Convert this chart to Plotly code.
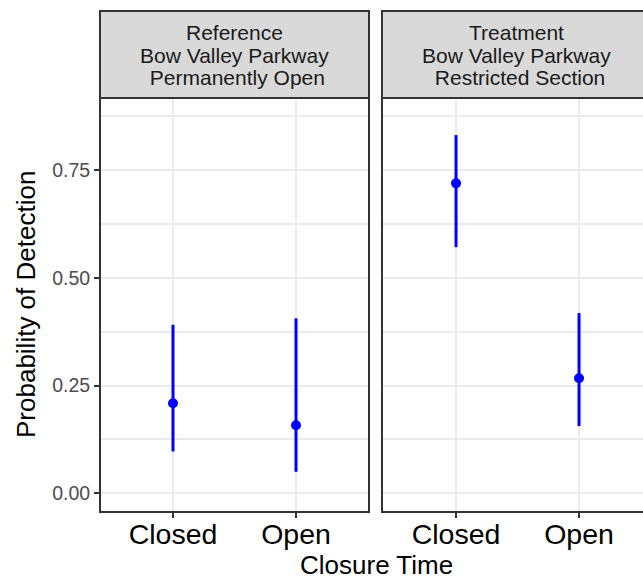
import plotly.graph_objects as go

categories = ["Closed", "Open"]
panels = ["Reference", "Treatment"]
strip_labels = [
    ["Reference", "Bow Valley Parkway", "\u00a0Permanently Open"],
    ["Treatment", "Bow Valley Parkway", "\u00a0Restricted Section"],
]
estimate = {"Reference": [0.209, 0.158], "Treatment": [0.719, 0.267]}
lower = {"Reference": [0.097, 0.050], "Treatment": [0.571, 0.156]}
upper = {"Reference": [0.391, 0.406], "Treatment": [0.831, 0.418]}
y_ticks = [0.0, 0.25, 0.5, 0.75]
y_ticktext = ["0.00", "0.25", "0.50", "0.75"]

W, H = 643, 580
ml, mr, mt, mb = 100, 0, 98, 68
pw, ph = W - ml - mr, H - mt - mb

def px_x(p):
    return (p - ml) / pw

def px_y(p):
    return (H - mb - p) / ph

FONT = "Liberation Sans, Arial, Helvetica, sans-serif"
fig = go.Figure()

axes = [("x", "y"), ("x2", "y2")]
for (xa, ya), pan in zip(axes, panels):
    est = estimate[pan]
    fig.add_trace(go.Scatter(
        x=categories, y=est, xaxis=xa, yaxis=ya, mode="markers",
        marker=dict(color="#0000FF", size=10),
        error_y=dict(type="data", symmetric=False,
                     array=[u - e for u, e in zip(upper[pan], est)],
                     arrayminus=[e - l for l, e in zip(lower[pan], est)],
                     color="#0000FF", thickness=3, width=0),
        showlegend=False, cliponaxis=False, hoverinfo="skip",
    ))

yr = [-0.0434, 0.917]
common_x = dict(type="category", showgrid=True, gridcolor="#EBEBEB", gridwidth=2,
                ticks="outside", ticklen=5, tickcolor="#333333", tickwidth=1.5,
                tickfont=dict(family=FONT, size=28.5, color="#000000"),
                ticklabelstandoff=-8,
                showline=False, zeroline=False, fixedrange=True)
common_y = dict(range=yr, tickvals=y_ticks, ticktext=y_ticktext, showgrid=True,
                gridcolor="#EBEBEB", gridwidth=2, zeroline=False, showline=False,
                minor=dict(tick0=0.125, dtick=0.25, showgrid=True, gridcolor="#EBEBEB",
                           gridwidth=1.5, ticks=""),
                fixedrange=True)

left_dom = [0, px_x(369)]
right_dom = [px_x(382), 1]
fig.update_layout(
    width=W, height=H, margin=dict(l=ml, r=mr, t=mt, b=mb),
    plot_bgcolor="white", paper_bgcolor="white",
    xaxis=dict(domain=left_dom, range=[-0.5935, 1.5935], anchor="y", **common_x),
    xaxis2=dict(domain=right_dom, range=[-0.602, 1.52], anchor="y2", **common_x),
    yaxis=dict(domain=[0, 1], anchor="x", ticks="outside", ticklen=5, tickcolor="#333333",
               tickwidth=1.5, tickfont=dict(family=FONT, size=19.5, color="#4D4D4D"), **common_y),
    yaxis2=dict(domain=[0, 1], anchor="x2", showticklabels=False, ticks="", **common_y),
    font=dict(family=FONT),
)

shapes = []
border = dict(color="#333333", width=2)
shapes.append(dict(type="rect", xref="paper", yref="paper", x0=left_dom[0], x1=left_dom[1],
                   y0=0, y1=1, line=border, fillcolor="rgba(0,0,0,0)", layer="above"))
shapes.append(dict(type="rect", xref="paper", yref="paper", x0=right_dom[0], x1=1.05,
                   y0=0, y1=1, line=border, fillcolor="rgba(0,0,0,0)", layer="above"))
strip_top = px_y(11)
shapes.append(dict(type="rect", xref="paper", yref="paper", x0=left_dom[0], x1=left_dom[1],
                   y0=1, y1=strip_top, line=border, fillcolor="#D9D9D9", layer="above"))
shapes.append(dict(type="rect", xref="paper", yref="paper", x0=right_dom[0], x1=1.05,
                   y0=1, y1=strip_top, line=border, fillcolor="#D9D9D9", layer="above"))
fig.update_layout(shapes=shapes)

annotations = []
centers = [px_x((100 + 369) / 2), px_x((382 + 651) / 2)]
line_y = [33, 55.5, 77.5]
for cx, labels in zip(centers, strip_labels):
    for ly, txt in zip(line_y, labels):
        annotations.append(dict(text=txt, x=cx, y=px_y(ly), xref="paper", yref="paper",
                                xanchor="center", yanchor="middle", showarrow=False,
                                font=dict(family=FONT, size=21, color="#1A1A1A")))
annotations.append(dict(text="Closure Time", x=px_x(376), y=px_y(565), xref="paper", yref="paper",
                        xanchor="center", yanchor="middle", showarrow=False,
                        font=dict(family=FONT, size=26, color="#000000")))
annotations.append(dict(text="Probability of Detection", x=px_x(26), y=px_y(305), xref="paper",
                        yref="paper", xanchor="center", yanchor="middle", showarrow=False,
                        textangle=-90, font=dict(family=FONT, size=26, color="#000000")))
fig.update_layout(annotations=annotations)

fig.write_html("out.html", config={"displayModeBar": False},
               post_script="document.body.style.margin='0px';")
